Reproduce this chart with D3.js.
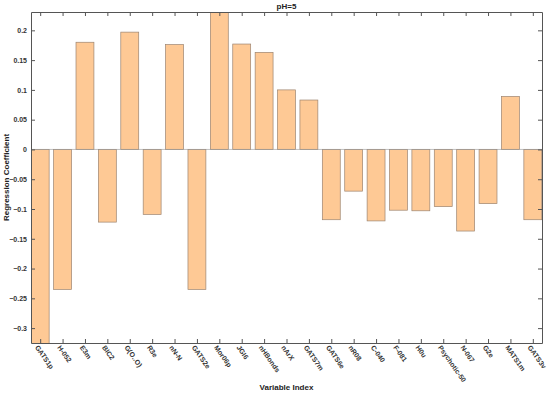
<!DOCTYPE html>
<meta charset="UTF-8">
<style>
body { margin: 0; background: #fff; }
text { font-family: "Liberation Sans", Arial, sans-serif; fill: #222; }
.tick text { font-size: 7px; font-weight: bold; fill: #333; }
</style>
<body>
<script src="https://cdn.jsdelivr.net/npm/d3@7"></script>
<script>

// variables on the x axis
var variables = ["GATS1p", "H-052", "E3m", "BIC2", "G(O..O)", "R3e", "nN-N", "GATS2e",
  "Mor06p", "JGI6", "nHBonds", "nArX", "GATS7m", "GATS6e", "nR08", "C-040",
  "F-081", "H0u", "Psychotic-50", "N-067", "G2e", "MATS1m", "GATS3v"];

// regression coefficients, pH=5
var coefficients = [-0.33, -0.235, 0.18, -0.122, 0.197, -0.109, 0.176, -0.235,
  0.235, 0.177, 0.163, 0.1, 0.083, -0.118, -0.07, -0.12,
  -0.102, -0.103, -0.096, -0.137, -0.091, 0.089, -0.118];

var yTicks = [0.2, 0.15, 0.1, 0.05, 0, -0.05, -0.1, -0.15, -0.2, -0.25, -0.3];

var width = 550, height = 395;
var margin = {top: 12, right: 8, bottom: 52, left: 31};

var svg = d3.select("body").append("svg")
    .attr("width", width)
    .attr("height", height);

var x0 = margin.left, x1 = width - margin.right;
var y0 = margin.top, y1 = height - margin.bottom;

// bar index scale, tight to the outer bar edges
var x = d3.scaleLinear()
    .domain([1 - 0.41, variables.length + 0.41])
    .range([x0, x1]);

var y = d3.scaleLinear()
    .domain([-0.325, 0.2308])
    .range([y1, y0]);

var barW = (x(1.4) - x(0.6));

svg.append("clipPath").attr("id", "clip")
  .append("rect")
    .attr("x", x0).attr("y", y0)
    .attr("width", x1 - x0).attr("height", y1 - y0);

var plot = svg.append("g").attr("clip-path", "url(#clip)");

plot.selectAll("rect.bar")
    .data(coefficients)
  .enter().append("rect")
    .attr("class", "bar")
    .attr("x", function(d, i) { return x(i + 1) - barW / 2; })
    .attr("width", barW)
    .attr("y", function(d) { return y(Math.max(0, d)); })
    .attr("height", function(d) { return Math.abs(y(d) - y(0)); })
    .style("fill", "#fec995")
    .style("stroke", "#9c8470")
    .style("stroke-width", 0.7);

// zero baseline
plot.append("line")
    .attr("x1", x0).attr("x2", x1)
    .attr("y1", y(0)).attr("y2", y(0))
    .style("stroke", "#999")
    .style("stroke-width", 0.6);

var idx = d3.range(1, variables.length + 1);

// bottom axis with inward ticks
var xAxis = svg.append("g")
    .attr("transform", "translate(0," + y1 + ")")
    .call(d3.axisBottom(x).tickValues(idx).tickSize(-4).tickSizeOuter(0)
      .tickFormat(function(d) { return variables[d - 1]; }));

xAxis.selectAll("text")
    .attr("text-anchor", "start")
    .attr("transform", "translate(-4,3) rotate(55)")
    .attr("x", 0).attr("y", 0).attr("dy", "0.35em");

// top axis (box), ticks only
svg.append("g")
    .attr("transform", "translate(0," + y0 + ")")
    .call(d3.axisTop(x).tickValues(idx).tickSize(-4).tickSizeOuter(0).tickFormat(""));

// left axis
svg.append("g")
    .attr("transform", "translate(" + x0 + ",0)")
    .call(d3.axisLeft(y).tickValues(yTicks).tickSize(-4).tickSizeOuter(0)
      .tickFormat(function(d) { return d3.format("")(+d.toFixed(2)); }))
  .selectAll("text").attr("x", -4);

// right axis (box), ticks only
svg.append("g")
    .attr("transform", "translate(" + x1 + ",0)")
    .call(d3.axisRight(y).tickValues(yTicks).tickSize(-4).tickSizeOuter(0).tickFormat(""));

svg.selectAll(".domain").style("stroke", "#555").style("stroke-width", 1);
svg.selectAll(".tick line").style("stroke", "#555");

// titles
svg.append("text")
    .attr("x", (x0 + x1) / 2).attr("y", 9)
    .attr("text-anchor", "middle")
    .style("font-size", "8px").style("font-weight", "bold")
    .text("pH=5");

svg.append("text")
    .attr("x", (x0 + x1) / 2).attr("y", 390)
    .attr("text-anchor", "middle")
    .style("font-size", "8px").style("font-weight", "bold")
    .text("Variable Index");

svg.append("text")
    .attr("transform", "translate(9," + ((y0 + y1) / 2) + ") rotate(-90)")
    .attr("text-anchor", "middle")
    .style("font-size", "8px").style("font-weight", "bold")
    .text("Regression Coefficient");

</script>
</body>
